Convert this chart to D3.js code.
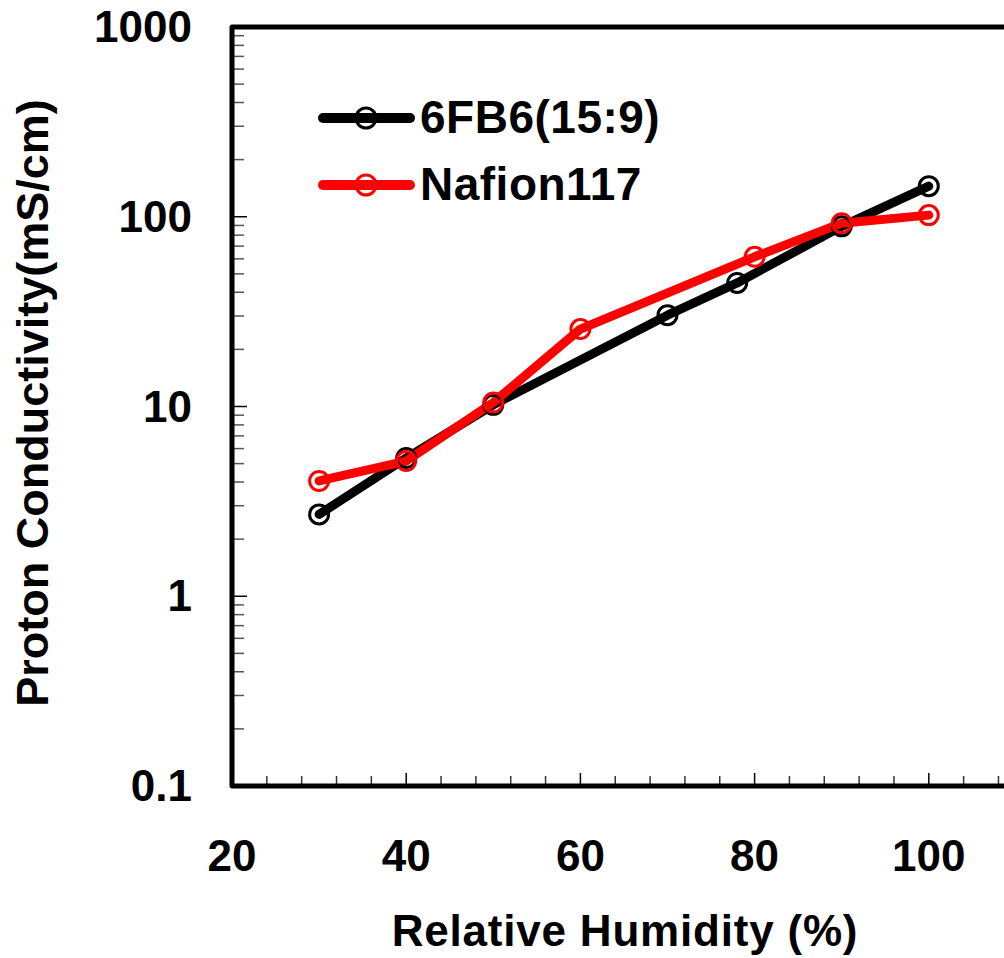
<!DOCTYPE html>
<html>
<head>
<meta charset="utf-8">
<script src="https://cdn.jsdelivr.net/npm/d3@7"></script>
<style>
html,body{margin:0;padding:0;background:#fff;}
svg{display:block;}
text{font-family:"Liberation Sans",Arial,sans-serif;font-weight:bold;fill:#000;}
</style>
</head>
<body>
<svg id="chart" width="1004" height="958"></svg>
<script>
// ---- data ----
const seriesNames = ["6FB6(15:9)", "Nafion117"];
const seriesColors = ["#000000", "#ff0000"];
const rh6FB6 = [30, 40, 50, 70, 78, 90, 100];
const cond6FB6 = [2.7, 5.35, 10.2, 30.3, 44.8, 89, 145];
const rhNafion = [30, 40, 50, 60, 80, 90, 100];
const condNafion = [4.05, 5.16, 10.5, 25.6, 61.5, 92.5, 102];
const xTickLabels = [20, 40, 60, 80, 100];
const yTickLabels = [0.1, 1, 10, 100, 1000];
const xTitle = "Relative Humidity (%)";
const yTitle = "Proton Conductivity(mS/cm)";

(function () {
const svg = d3.select("#chart");
const pL = 232, pR = 1103, pT = 27, pB = 786;
const x = d3.scaleLinear().domain([20, 120]).range([pL, pR]);
const y = d3.scaleLog().domain([0.1, 1000]).range([pB, pT]);

const g = svg.append("g");

// x ticks (inward, from bottom)
const xMinor = d3.range(24, 120, 4).filter(v => v % 20 !== 0);
g.selectAll(".xminor").data(xMinor).enter().append("line")
  .attr("x1", d => x(d)).attr("x2", d => x(d))
  .attr("y1", pB).attr("y2", pB - 10)
  .attr("stroke", "#333").attr("stroke-width", 1.5);
g.selectAll(".xmajor").data([40, 60, 80, 100]).enter().append("line")
  .attr("x1", d => x(d)).attr("x2", d => x(d))
  .attr("y1", pB).attr("y2", pB - 13)
  .attr("stroke", "#000").attr("stroke-width", 1.5);

// y ticks (inward, from left)
const yMinor = [];
[0.1, 1, 10, 100].forEach(dec => { for (let k = 2; k <= 9; k++) yMinor.push(dec * k); });
g.selectAll(".yminor").data(yMinor).enter().append("line")
  .attr("x1", pL).attr("x2", pL + 12)
  .attr("y1", d => y(d)).attr("y2", d => y(d))
  .attr("stroke", "#555").attr("stroke-width", 1.5);
g.selectAll(".ymajor").data([1, 10, 100]).enter().append("line")
  .attr("x1", pL).attr("x2", pL + 15)
  .attr("y1", d => y(d)).attr("y2", d => y(d))
  .attr("stroke", "#000").attr("stroke-width", 1.5);

// frame
g.append("path")
  .attr("d", `M${pR},${pT} L${pL},${pT} L${pL},${pB} L${pR},${pB} Z`)
  .attr("fill", "none").attr("stroke", "#000").attr("stroke-width", 5)
  .attr("stroke-linejoin", "round");

// tick labels
g.selectAll(".xlab").data(xTickLabels).enter().append("text")
  .attr("x", d => x(d)).attr("y", 871)
  .attr("text-anchor", "middle").attr("font-size", 44)
  .text(d => d);
g.selectAll(".ylab").data(yTickLabels).enter().append("text")
  .attr("x", 192).attr("y", d => y(d) + 15)
  .attr("text-anchor", "end").attr("font-size", 44)
  .text(d => d);

// titles
svg.append("text").attr("x", 625).attr("y", 946)
  .attr("text-anchor", "middle").attr("font-size", 44)
  .attr("letter-spacing", 0.8)
  .text(xTitle);
svg.append("text")
  .attr("transform", "translate(48,403) rotate(-90)")
  .attr("text-anchor", "middle").attr("font-size", 45)
  .text(yTitle);

// series
const series = [
  { xs: rh6FB6, ys: cond6FB6 },
  { xs: rhNafion, ys: condNafion }
];
const line = d3.line().x(d => x(d[0])).y(d => y(d[1]));
series.forEach((s, i) => {
  const pts = s.xs.map((v, j) => [v, s.ys[j]]);
  g.append("path").datum(pts).attr("d", line)
    .attr("fill", "none").attr("stroke", seriesColors[i])
    .attr("stroke-width", 9).attr("stroke-linejoin", "round").attr("stroke-linecap", "round");
});
series.forEach((s, i) => {
  const pts = s.xs.map((v, j) => [v, s.ys[j]]);
  g.selectAll(".m" + i).data(pts).enter().append("circle")
    .attr("cx", d => x(d[0])).attr("cy", d => y(d[1])).attr("r", 9.5)
    .attr("fill", "none").attr("stroke", seriesColors[i]).attr("stroke-width", 3);
});

// legend
const legY = [118, 185];
seriesNames.forEach((name, i) => {
  svg.append("line").attr("x1", 323).attr("x2", 410)
    .attr("y1", legY[i]).attr("y2", legY[i])
    .attr("stroke", seriesColors[i]).attr("stroke-width", 10).attr("stroke-linecap", "round");
  svg.append("circle").attr("cx", 366).attr("cy", legY[i]).attr("r", 10)
    .attr("fill", "none").attr("stroke", seriesColors[i]).attr("stroke-width", 3);
  svg.append("text").attr("x", 420).attr("y", legY[i] + 15)
    .attr("font-size", 46).attr("letter-spacing", 0.5).text(name);
});
})();
</script>
</body>
</html>
